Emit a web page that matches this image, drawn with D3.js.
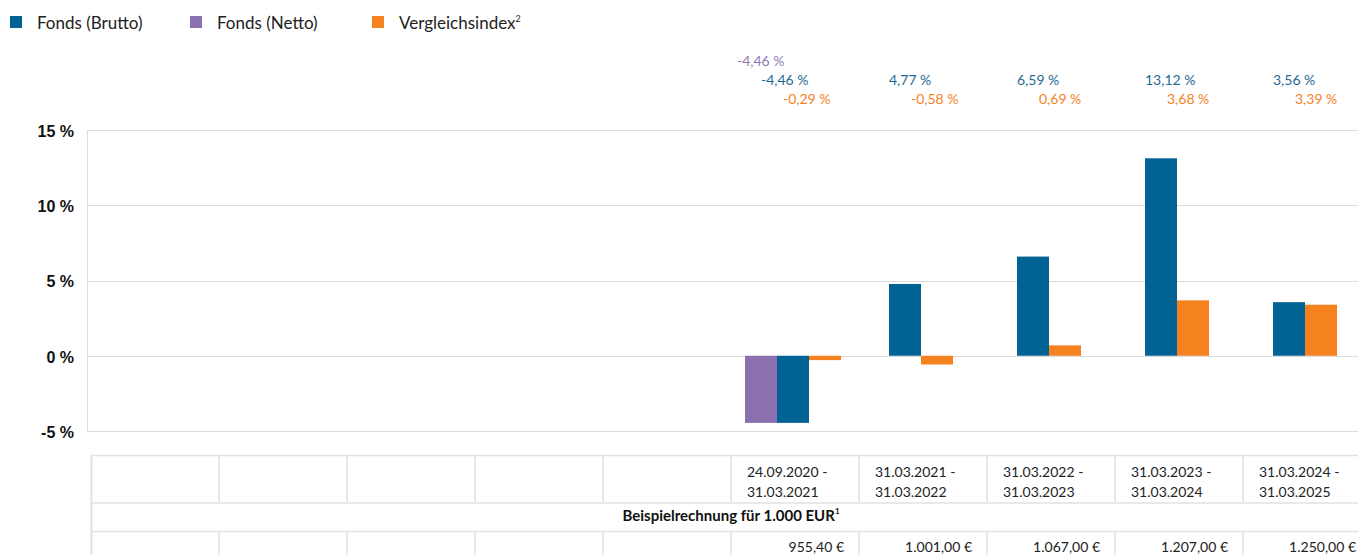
<!DOCTYPE html>
<html>
<head>
<meta charset="utf-8">
<script src="https://cdn.jsdelivr.net/npm/d3@7"></script>
<style>
  body { margin: 0; background: #fff; overflow: hidden; }
  svg { display: block; font-family: Lato, "Open Sans", sans-serif; }
</style>
</head>
<body>
<svg id="chart" width="1358" height="555"></svg>
<script>
// Zeitraeume (erste 5 Spalten leer)
const periodStart = ["", "", "", "", "", "24.09.2020 -", "31.03.2021 -", "31.03.2022 -", "31.03.2023 -", "31.03.2024 -"];
const periodEnd = ["", "", "", "", "", "31.03.2021", "31.03.2022", "31.03.2023", "31.03.2024", "31.03.2025"];

// Wertentwicklung in %
const fondsBrutto = [null, null, null, null, null, -4.46, 4.77, 6.59, 13.12, 3.56];
const fondsNetto = [null, null, null, null, null, -4.46, null, null, null, null];
const vergleichsindex = [null, null, null, null, null, -0.29, -0.58, 0.69, 3.68, 3.39];

// Beispielrechnung fuer 1.000 EUR
const beispielwerte = [null, null, null, null, null, 955.40, 1001.00, 1067.00, 1207.00, 1250.00];

const yTicks = [-5, 0, 5, 10, 15];

const seriesKeys = ["netto", "brutto", "index"];
const seriesNames = { brutto: "Fonds (Brutto)", netto: "Fonds (Netto)", index: "Vergleichsindex" };
const seriesValues = { brutto: fondsBrutto, netto: fondsNetto, index: vergleichsindex };
const colors = { brutto: "#006394", netto: "#8b70b0", index: "#f5821f" };
const labelColors = { brutto: "#1f6a94", netto: "#9079b6", index: "#f5821f" };

// deutsches Zahlenformat
const de = d3.formatLocale({ decimal: ",", thousands: ".", grouping: [3], currency: ["", " €"], minus: "-" });
const fmtPct = d => de.format(".2f")(d) + " %";
const fmtEur = d => de.format(",.2f")(d) + " €";

const svg = d3.select("#chart");

// Skalen
const x = d3.scaleBand().domain(d3.range(10)).range([91, 1371]);
const y = d3.scaleLinear().domain([-5, 15]).range([431, 130]);
const barWidth = 32;

// Gitterlinien
svg.append("g")
    .selectAll("line")
    .data(yTicks)
    .enter().append("line")
    .attr("x1", 87)
    .attr("x2", 1358)
    .attr("y1", d => Math.round(y(d)) + 0.5)
    .attr("y2", d => Math.round(y(d)) + 0.5)
    .attr("stroke", "#dcdcdc")
    .attr("stroke-width", 1.2);

svg.append("line")
    .attr("x1", 87.5).attr("x2", 87.5)
    .attr("y1", y(15)).attr("y2", y(-5))
    .attr("stroke", "#dcdcdc");

// y-Achse
const yAxis = svg.append("g")
    .attr("transform", "translate(87,0)")
    .call(d3.axisLeft(y).tickValues(yTicks).tickSize(0).tickPadding(13).tickFormat(d => d + " %"));
yAxis.select(".domain").remove();
yAxis.selectAll("text")
    .attr("font-family", "'Liberation Sans', Arial, sans-serif")
    .attr("font-weight", "bold")
    .attr("font-size", 16)
    .attr("dy", "0.4em")
    .attr("fill", "#111");

// Balken
const groups = svg.append("g")
    .selectAll("g")
    .data(d3.range(10))
    .enter().append("g");

groups.each(function (i) {
    const present = seriesKeys.filter(k => seriesValues[k][i] != null);
    if (!present.length) return;
    const center = x(i) + x.bandwidth() / 2 - 2;
    const inner = d3.scaleBand().domain(present)
        .range([center - present.length * barWidth / 2, center + present.length * barWidth / 2]);
    d3.select(this).selectAll("rect")
        .data(present)
        .enter().append("rect")
        .attr("x", k => inner(k))
        .attr("width", inner.bandwidth())
        .attr("y", k => y(Math.max(0, seriesValues[k][i])))
        .attr("height", k => Math.abs(y(seriesValues[k][i]) - y(0)))
        .attr("fill", k => colors[k]);
});

// Wertbeschriftungen oberhalb
const labelOffset = { netto: { dx: 6, y: 66 }, brutto: { dx: 30, y: 85 }, index: { dx: 52, y: 104 } };
seriesKeys.forEach(k => {
    svg.append("g")
        .selectAll("text")
        .data(d3.range(10).filter(i => seriesValues[k][i] != null))
        .enter().append("text")
        .attr("x", i => x(i) + labelOffset[k].dx)
        .attr("y", labelOffset[k].y)
        .attr("font-size", 14)
        .attr("fill", labelColors[k])
        .text(i => fmtPct(seriesValues[k][i]));
});

// Legende
const legendItems = [
    { key: "brutto", x: 10 },
    { key: "netto", x: 190 },
    { key: "index", x: 372 }
];
const legend = svg.append("g")
    .selectAll("g")
    .data(legendItems)
    .enter().append("g")
    .attr("transform", d => `translate(${d.x},16)`);
legend.append("rect")
    .attr("width", 12).attr("height", 12)
    .attr("fill", d => colors[d.key]);
const legendText = legend.append("text")
    .attr("x", 27).attr("y", 12.5)
    .attr("font-size", 17)
    .attr("fill", "#222")
    .text(d => seriesNames[d.key]);
legendText.filter(d => d.key === "index")
    .append("tspan")
    .attr("font-size", 9)
    .attr("dy", -7)
    .text("2");

// Tabelle
const tableTop = 455.5, row1 = 503, row2 = 531.5, tableBottom = 556;
const table = svg.append("g").attr("stroke", "#e2e2e2").attr("stroke-width", 1.5);
[tableTop, row1, row2].forEach(yy => {
    table.append("line").attr("x1", 91).attr("x2", 1371).attr("y1", yy).attr("y2", yy);
});
table.append("line").attr("x1", 91.5).attr("x2", 91.5).attr("y1", tableTop).attr("y2", tableBottom).attr("stroke-width", 2);
table.selectAll("line.col")
    .data(d3.range(1, 10))
    .enter().append("line")
    .attr("x1", i => x(i)).attr("x2", i => x(i))
    .attr("y1", tableTop).attr("y2", row1);
table.selectAll("line.col2")
    .data(d3.range(1, 10))
    .enter().append("line")
    .attr("x1", i => x(i)).attr("x2", i => x(i))
    .attr("y1", row2).attr("y2", tableBottom);

const cells = svg.append("g")
    .selectAll("text")
    .data(d3.range(10).filter(i => periodStart[i]))
    .enter().append("text")
    .attr("font-size", 14)
    .attr("fill", "#222");
cells.append("tspan")
    .attr("x", i => x(i) + 16).attr("y", 477)
    .text(i => periodStart[i]);
cells.append("tspan")
    .attr("x", i => x(i) + 16).attr("y", 497)
    .text(i => periodEnd[i]);

const heading = svg.append("text")
    .attr("x", (x.range()[0] + x.range()[1]) / 2)
    .attr("y", 521)
    .attr("text-anchor", "middle")
    .attr("font-size", 15)
    .attr("font-weight", "bold")
    .attr("fill", "#111")
    .text("Beispielrechnung für 1.000 EUR");
heading.append("tspan").attr("font-size", 8).attr("dy", -7).text("1");

svg.append("g")
    .selectAll("text")
    .data(d3.range(10).filter(i => beispielwerte[i] != null))
    .enter().append("text")
    .attr("x", i => x(i) + x.bandwidth() - 15)
    .attr("y", 552)
    .attr("text-anchor", "end")
    .attr("font-size", 14)
    .attr("fill", "#222")
    .text(i => fmtEur(beispielwerte[i]));
</script>
</body>
</html>
